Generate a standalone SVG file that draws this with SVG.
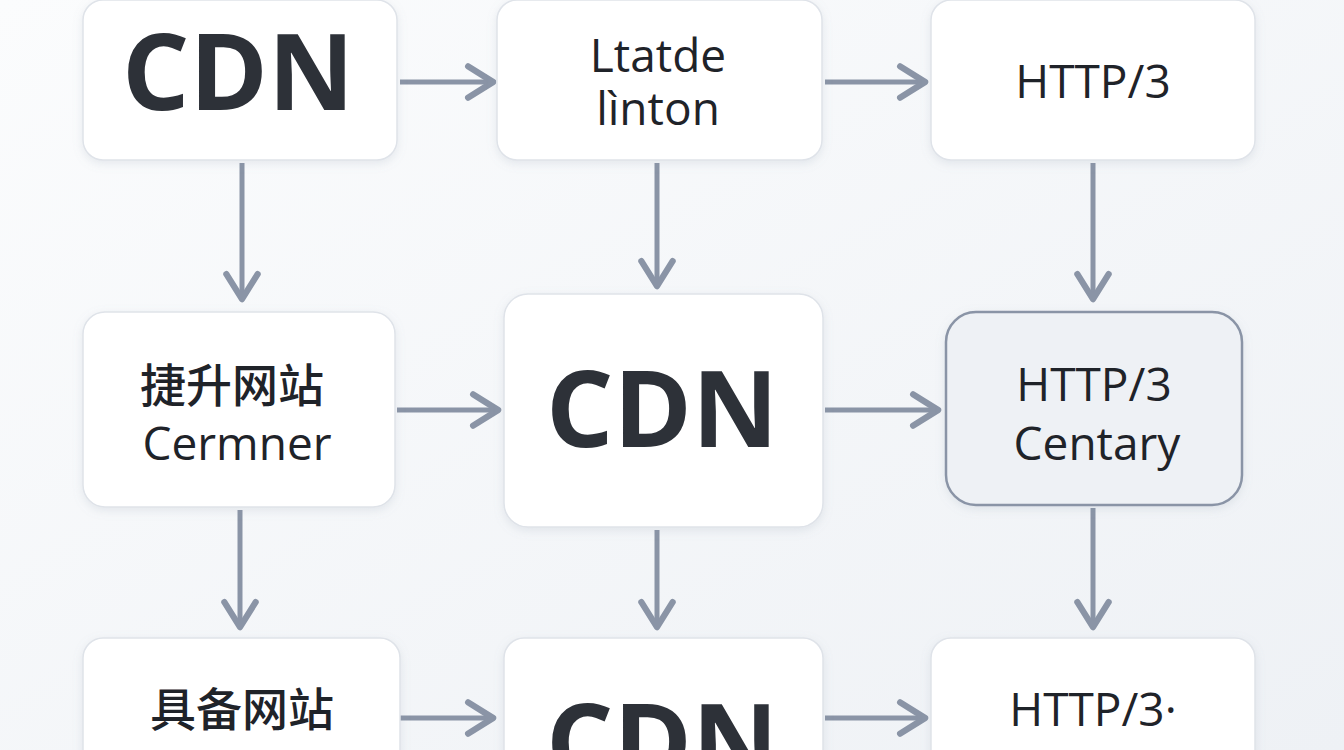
<svg xmlns="http://www.w3.org/2000/svg" width="1344" height="750" viewBox="0 0 1344 750">
<defs>
<linearGradient id="bg" x1="0" y1="0" x2="1" y2="1"><stop offset="0" stop-color="#fbfcfd"/><stop offset="1" stop-color="#eef1f5"/></linearGradient>
<filter id="sh" x="-10%" y="-10%" width="120%" height="130%"><feDropShadow dx="0" dy="3" stdDeviation="5" flood-color="#8894a8" flood-opacity="0.18"/></filter>
<marker id="ah" viewBox="0 0 12 12" refX="9" refY="6" markerWidth="7.5" markerHeight="7.5" orient="auto" markerUnits="strokeWidth"><path d="M2,1 L10,6 L2,11" fill="none" stroke="#8a94a6" stroke-width="2" stroke-linejoin="round" stroke-linecap="round"/></marker>
</defs>
<style>
.box{fill:#fff;stroke:#dfe3e9;stroke-width:1.5;filter:url(#sh)}
.box2{fill:#eef1f5;stroke:#8a94a6;stroke-width:2.5;filter:url(#sh)}
.c{stroke:#8a94a6;stroke-width:5;fill:none;marker-end:url(#ah)}
text{font-family:"Open Sans","Noto Sans CJK SC",sans-serif;fill:#1f2329;text-anchor:middle}
.big{font-size:106px;font-weight:700;fill:#2d3138}
.m{font-size:46px}
.cj{font-family:"Noto Sans CJK SC",sans-serif;font-size:46px;font-weight:500}
</style>
<rect width="1344" height="750" fill="url(#bg)"/>
<g id="connectors">
<path class="c" d="M400,82 H490"/><path class="c" d="M825,82 H922"/>
<path class="c" d="M397,410 H495"/><path class="c" d="M825,410 H935"/>
<path class="c" d="M400,718 H490"/><path class="c" d="M825,718 H922"/>
<path class="c" d="M242,163 V296"/><path class="c" d="M657,163 V283"/><path class="c" d="M1093,163 V296"/>
<path class="c" d="M240,510 V624"/><path class="c" d="M657,530 V624"/><path class="c" d="M1093,508 V624"/>
</g>
<g id="n1"><rect class="box" x="83" y="0" width="314" height="160" rx="20"/><text class="big" x="238" y="110">CDN</text></g>
<g id="n2"><rect class="box" x="497" y="0" width="325" height="160" rx="20"/><text class="m" x="658" y="72">Ltatde</text><text class="m" x="658" y="125">lìnton</text></g>
<g id="n3"><rect class="box" x="931" y="0" width="324" height="160" rx="20"/><text class="m" x="1093" y="98">HTTP/3</text></g>
<g id="n4"><rect class="box" x="83" y="312" width="312" height="195" rx="22"/><text class="cj" x="232" y="402">捷升网站</text><text class="m" x="237" y="460">Cermner</text></g>
<g id="n5"><rect class="box" x="504" y="294" width="319" height="233" rx="24"/><text class="big" x="662" y="447">CDN</text></g>
<g id="n6"><rect class="box2" x="946" y="312" width="296" height="193" rx="30"/><text class="m" x="1094" y="401">HTTP/3</text><text class="m" x="1097" y="460">Centary</text></g>
<g id="n7"><rect class="box" x="83" y="638" width="317" height="140" rx="20"/><text class="cj" x="242" y="726">具备网站</text></g>
<g id="n8"><rect class="box" x="504" y="638" width="319" height="140" rx="20"/><text class="big" x="662" y="780">CDN</text></g>
<g id="n9"><rect class="box" x="931" y="638" width="324" height="140" rx="20"/><text class="m" x="1093" y="726">HTTP/3·</text></g>
</svg>
